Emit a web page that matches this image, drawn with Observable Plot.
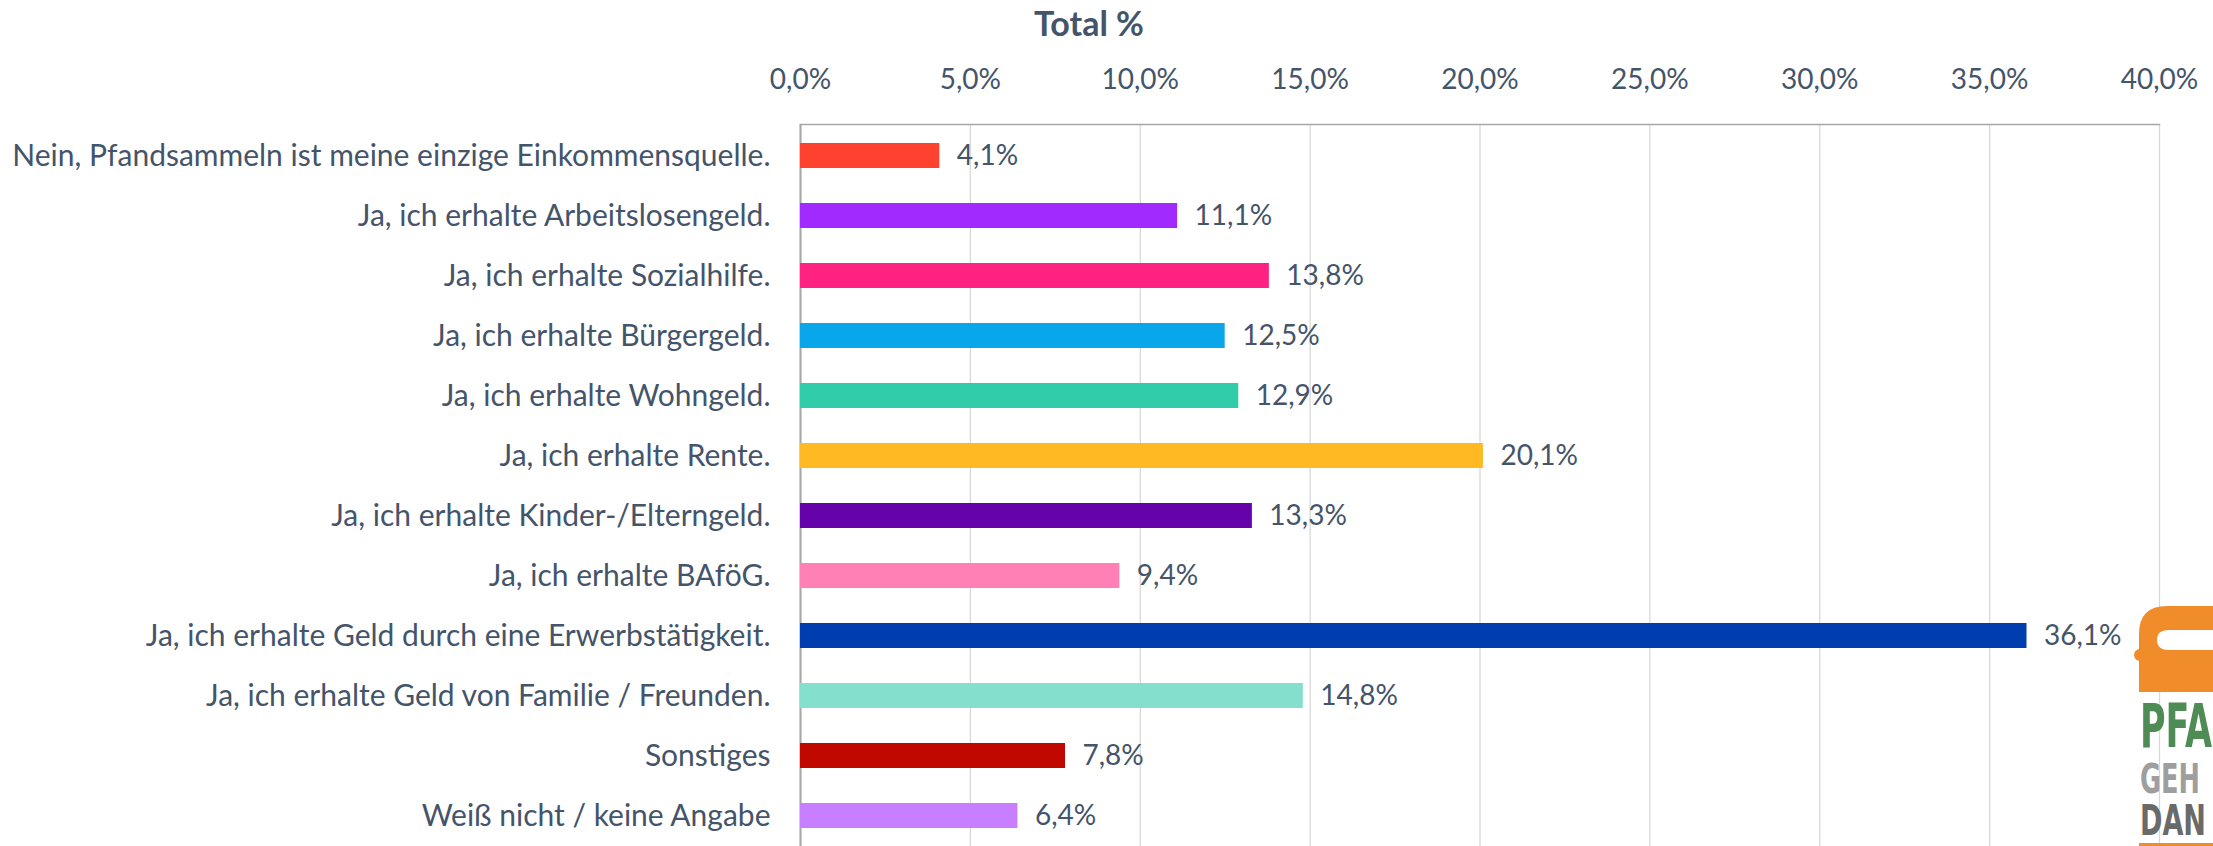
<!DOCTYPE html>
<html>
<head>
<meta charset="utf-8">
<script src="https://cdn.jsdelivr.net/npm/d3@7"></script>
<script src="https://cdn.jsdelivr.net/npm/@observablehq/plot@0.6"></script>
<style>
  html, body { margin: 0; padding: 0; background: #fff; }
  #wrap { position: relative; width: 2213px; height: 846px; overflow: hidden; font-family: Lato, "Open Sans", sans-serif; }
  #chart { position: absolute; left: 0; top: 0; }
  #title { position: absolute; left: 1089px; top: 22px; transform: translate(-50%, -50%); font: bold 34px Lato, sans-serif; color: #44546A; white-space: nowrap; }
  #logo { position: absolute; left: 2134px; top: 604px; }
</style>
</head>
<body>
<div id="wrap">
  <div id="chart"></div>
  <div id="title">Total %</div>
  <svg id="logo" width="79" height="242" viewBox="0 0 79 242">
    <path d="M5,88 L5,30 Q5,2 33,2 L79,2 L79,88 Z" fill="#F08C2A"/>
    <path d="M35,26 L79,26 L79,46 L35,46 Q23,46 23,36 Q23,26 35,26 Z" fill="#fff"/>
    <circle cx="6" cy="51" r="6" fill="#F08C2A"/>
    <g font-family="'DejaVu Sans Condensed', 'Liberation Sans Narrow', sans-serif" font-weight="bold">
      <text x="6" y="143" font-size="60" fill="#4E8B55" textLength="72" lengthAdjust="spacingAndGlyphs">PFA</text>
      <text x="6" y="189" font-size="41" fill="#9E9E9E" textLength="60" lengthAdjust="spacingAndGlyphs">GEH</text>
      <text x="6" y="231" font-size="43" fill="#6A6A6A" textLength="66" lengthAdjust="spacingAndGlyphs">DAN</text>
    </g>
    <rect x="5" y="239" width="74" height="3" fill="#F08C2A"/>
  </svg>
</div>
<script>
const categories = [
  "Nein, Pfandsammeln ist meine einzige Einkommensquelle.",
  "Ja, ich erhalte Arbeitslosengeld.",
  "Ja, ich erhalte Sozialhilfe.",
  "Ja, ich erhalte Bürgergeld.",
  "Ja, ich erhalte Wohngeld.",
  "Ja, ich erhalte Rente.",
  "Ja, ich erhalte Kinder-/Elterngeld.",
  "Ja, ich erhalte BAföG.",
  "Ja, ich erhalte Geld durch eine Erwerbstätigkeit.",
  "Ja, ich erhalte Geld von Familie / Freunden.",
  "Sonstiges",
  "Weiß nicht / keine Angabe"
];
const values = [4.1, 11.1, 13.8, 12.5, 12.9, 20.1, 13.3, 9.4, 36.1, 14.8, 7.8, 6.4];
const colors = ["#FF4130", "#A12BFF", "#FF2280", "#0AA6EA", "#31CCA9", "#FFB923", "#6602AA", "#FF80B4", "#003DAE", "#84DFCD", "#C00800", "#C77EFF"];
const xTicks = [0, 5, 10, 15, 20, 25, 30, 35, 40];

const data = categories.map((c, i) => ({category: c, value: values[i], color: colors[i]}));
const fmt = v => v.toFixed(1).replace(".", ",") + "%";
const textColor = "#44546A";

const chart = Plot.plot({
  width: 2213,
  height: 846,
  marginLeft: 800,
  marginRight: 54,
  marginTop: 124,
  marginBottom: 0,
  style: { background: "#fff", fontFamily: "Lato, 'Open Sans', sans-serif", color: textColor },
  x: { domain: [0, 40], ticks: xTicks, tickFormat: fmt },
  y: { domain: categories, paddingInner: 0.585, paddingOuter: 0.2925, align: 0.5 },
  color: { type: "identity" },
  marks: [
    Plot.gridX(xTicks, { stroke: "#D9D9D9", strokeOpacity: 1, strokeWidth: 1.3 }),
    Plot.frame({ anchor: "top", stroke: "#A6A6A6", strokeWidth: 1.5 }),
    Plot.ruleX([0], { stroke: "#A6A6A6", strokeWidth: 2 }),
    Plot.barX(data, { x: "value", y: "category", fill: "color" }),
    Plot.text(data, { x: "value", y: "category", text: d => fmt(d.value), dx: 17, textAnchor: "start", fill: textColor, fontSize: 28 }),
    Plot.axisX(xTicks, { anchor: "top", tickSize: 0, tickPadding: 36, tickFormat: fmt, fontSize: 28, fill: textColor, label: null }),
    Plot.axisY({ anchor: "left", tickSize: 0, tickPadding: 30, fontSize: 30, fill: textColor, label: null })
  ]
});
document.getElementById("chart").appendChild(chart);
</script>
</body>
</html>
